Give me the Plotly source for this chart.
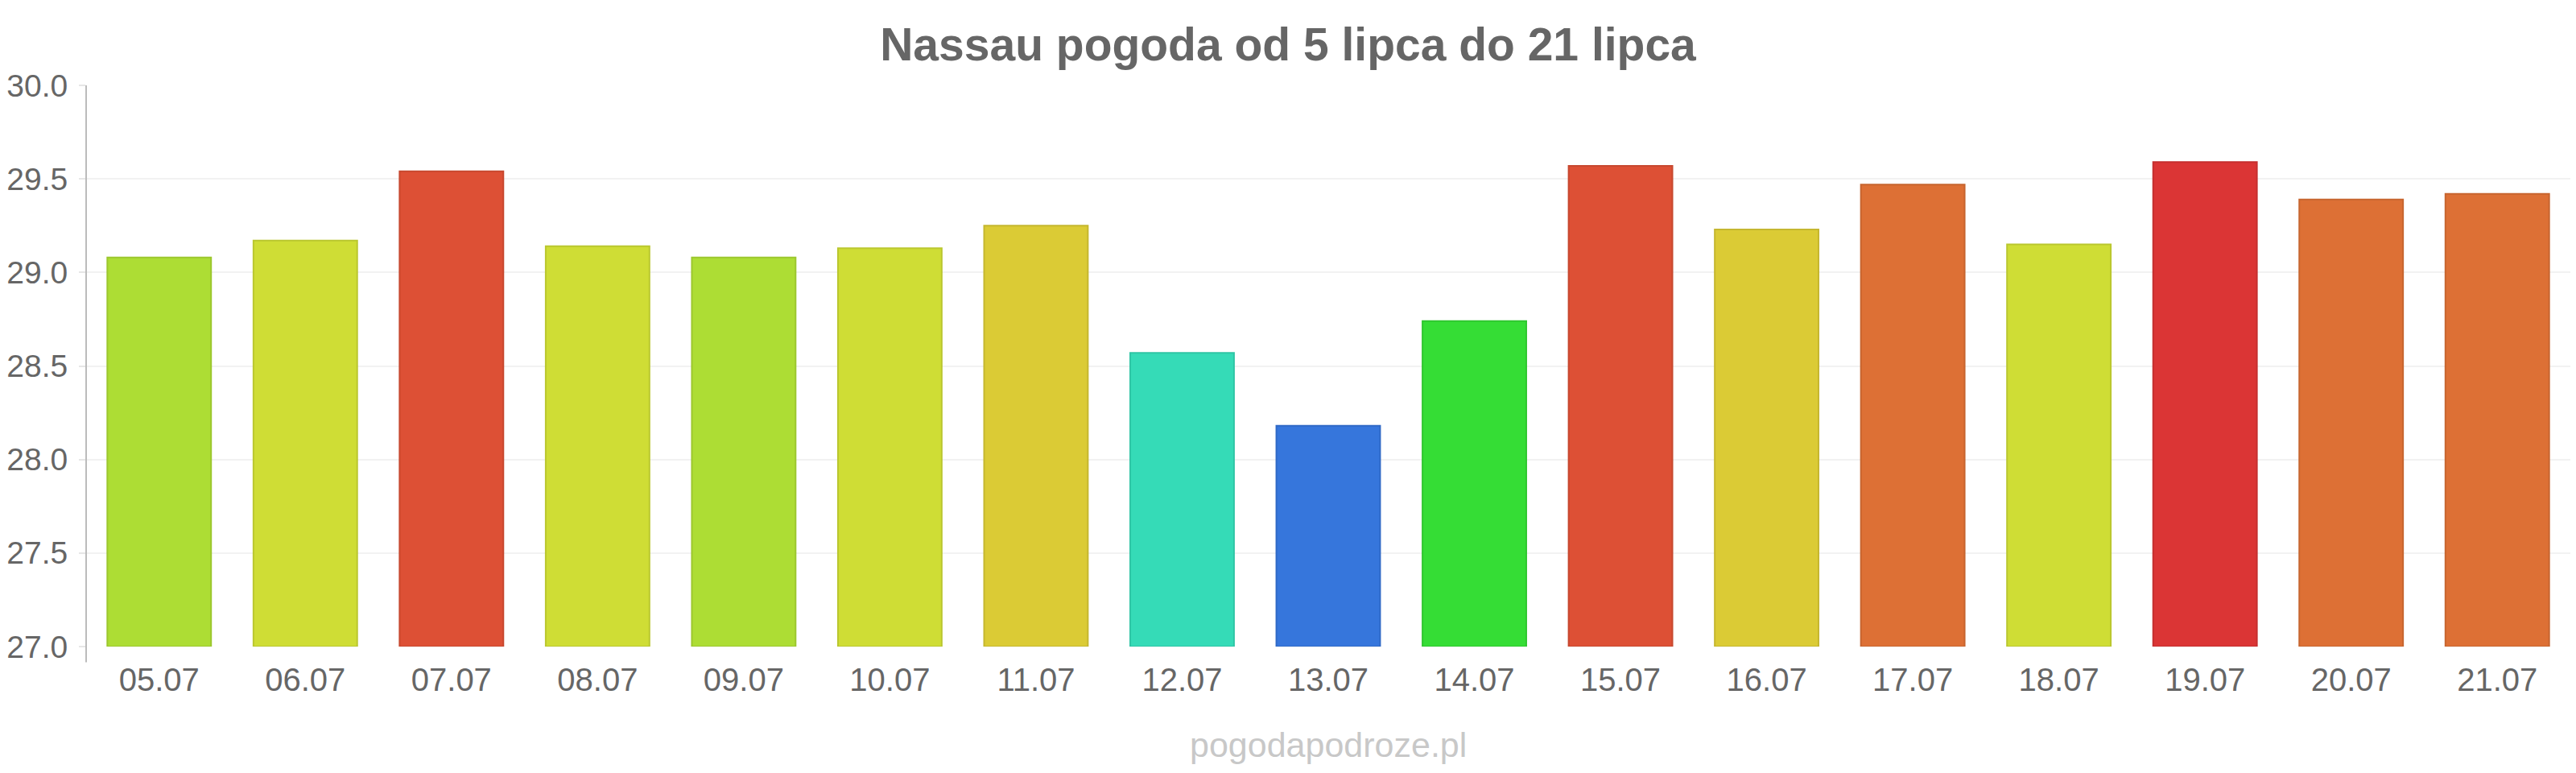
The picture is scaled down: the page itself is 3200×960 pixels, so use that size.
import plotly.graph_objects as go

# Data
dates = ["05.07", "06.07", "07.07", "08.07", "09.07", "10.07", "11.07", "12.07", "13.07",
         "14.07", "15.07", "16.07", "17.07", "18.07", "19.07", "20.07", "21.07"]
temps = [29.08, 29.17, 29.54, 29.14, 29.08, 29.13, 29.25, 28.57, 28.18,
         28.74, 29.57, 29.23, 29.47, 29.15, 29.59, 29.39, 29.42]
y_ticks = [27.0, 27.5, 28.0, 28.5, 29.0, 29.5, 30.0]
title_text = "Nassau pogoda od 5 lipca do 21 lipca"
watermark = "pogodapodroze.pl"

# Styles
bar_colors = ["#addd34", "#cfdd35", "#dd5035", "#cfdd35", "#addd34", "#cfdd35", "#dbcb35",
              "#35dbb7", "#3676dc", "#35dd35", "#dd5035", "#dbcb35", "#dd7035", "#cfdd35",
              "#db3535", "#dd7035", "#dd7035"]
line_colors = ["#9cc72e", "#bac72f", "#c7482f", "#bac72f", "#9cc72e", "#bac72f", "#c5b72f",
               "#2fc5a5", "#3069c6", "#2fc72f", "#c7482f", "#c5b72f", "#c7652f", "#bac72f",
               "#c52f2f", "#c7652f", "#c7652f"]

FONT = "Liberation Sans, Arial, sans-serif"

fig = go.Figure()
fig.add_trace(go.Bar(
    x=dates,
    y=[t - 27.0 for t in temps],
    base=27.0,
    marker=dict(color=bar_colors, line=dict(color=line_colors, width=2)),
    hoverinfo="skip",
))

fig.update_layout(
    width=3200, height=960,
    margin=dict(l=107, r=7, t=106, b=157),
    paper_bgcolor="white", plot_bgcolor="white",
    bargap=0.29,
    showlegend=False,
    title=dict(text="<b>" + title_text + "</b>", x=0.5, xanchor="center",
               y=1 - 55 / 960, yanchor="middle",
               font=dict(family=FONT, size=57, color="#666666")),
    font=dict(family=FONT, color="#666666"),
)
fig.update_xaxes(
    type="category",
    showgrid=False, showline=False, zeroline=False,
    ticks="", tickfont=dict(size=40, color="#666666"),
    ticklabelstandoff=14,
)
fig.update_yaxes(
    range=[27.0, 30.0],
    tickvals=y_ticks,
    ticktext=[f"{v:.1f}" for v in y_ticks],
    showgrid=True, gridcolor="#f2f2f2", gridwidth=2,
    zeroline=False,
    showline=False,
    ticks="outside", ticklen=8, tickcolor="#e6e6e6", tickwidth=2,
    tickfont=dict(size=39, color="#666666"),
    ticklabelstandoff=6,
)
# y axis line extending slightly below the plot
fig.add_shape(type="line", xref="paper", yref="paper", x0=0, x1=0, y0=-0.028, y1=1.0,
              line=dict(color="#bbbbbb", width=2))
fig.add_annotation(text=watermark, xref="paper", yref="paper", x=0.5, y=-0.175,
                   xanchor="center", yanchor="middle", showarrow=False,
                   font=dict(family=FONT, size=43, color="#c8c8c8"))

fig.write_html("out.html")
